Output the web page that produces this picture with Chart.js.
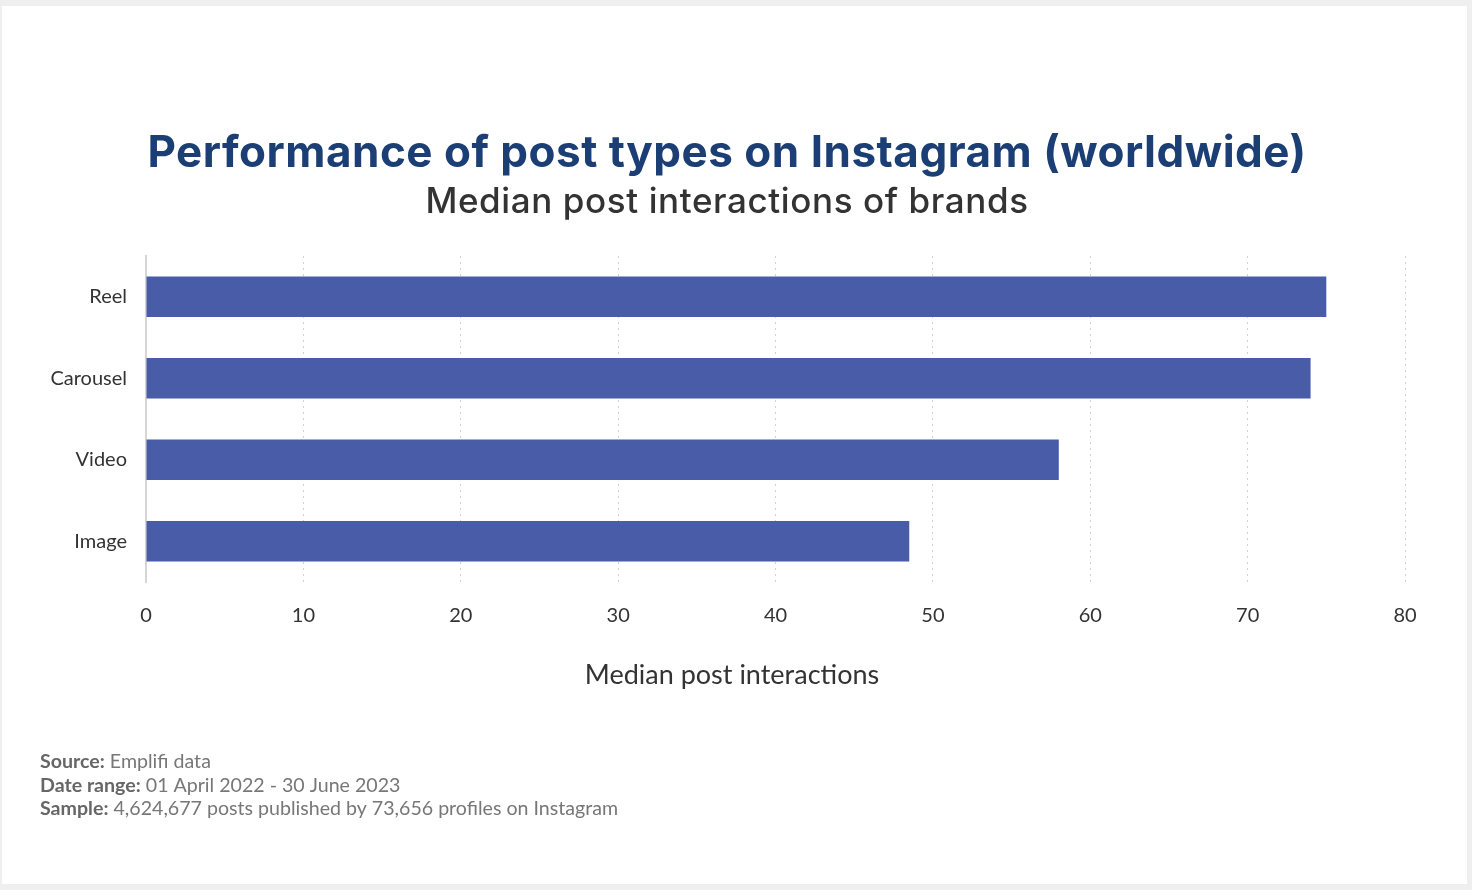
<!DOCTYPE html>
<html>
<head>
<meta charset="utf-8">
<script src="https://cdn.jsdelivr.net/npm/chart.js@4/dist/chart.umd.min.js"></script>
<style>
  html, body { margin: 0; padding: 0; background: #efefef; }
  #wrap { width: 1472px; height: 890px; }
</style>
</head>
<body>
<div id="wrap"><canvas id="postChart" width="1472" height="890"></canvas></div>
<script>
const postTypes = ['Reel', 'Carousel', 'Video', 'Image'];
const medianInteractions = [75, 74, 58, 48.5];
const xTicks = [0, 10, 20, 30, 40, 50, 60, 70, 80];

const chartTitle = 'Performance of post types on Instagram (worldwide)';
const chartSubtitle = 'Median post interactions of brands';
const xAxisTitle = 'Median post interactions';
const footerLines = [
  ['Source:', ' Emplifi data'],
  ['Date range:', ' 01 April 2022 - 30 June 2023'],
  ['Sample:', ' 4,624,677 posts published by 73,656 profiles on Instagram']
];

// white card, headings (centred on the card, not the plot) and footnote
const cardPlugin = {
  id: 'card',
  beforeDraw(chart) {
    const c = chart.ctx;
    c.save();
    c.fillStyle = '#efefef';
    c.fillRect(0, 0, chart.width, chart.height);
    c.fillStyle = '#ffffff';
    c.fillRect(2, 6, 1465, 878);
    c.restore();
  },
  afterDraw(chart) {
    const c = chart.ctx;
    const mid = 727;
    c.save();
    c.textAlign = 'center';
    c.textBaseline = 'alphabetic';

    c.font = '700 44px Inter';
    c.letterSpacing = '0.5px';
    c.fillStyle = '#1b3f75';
    c.fillText(chartTitle, mid, 167);

    c.font = '500 35px Inter';
    c.letterSpacing = '0.6px';
    c.fillStyle = '#333333';
    c.fillText(chartSubtitle, mid, 213);

    c.letterSpacing = '0px';
    c.font = '27px Lato';
    c.fillStyle = '#333333';
    c.fillText(xAxisTitle, 732, 684);

    c.textAlign = 'left';
    let y = 768;
    footerLines.forEach(([label, text]) => {
      c.font = 'bold 19.6px Lato';
      c.fillStyle = '#666666';
      c.fillText(label, 40, y);
      const w = c.measureText(label).width;
      c.font = '19.6px Lato';
      c.fillStyle = '#777777';
      c.fillText(text, 40 + w, y);
      y += 23.5;
    });
    c.restore();
  }
};

const ctx = document.getElementById('postChart').getContext('2d');
const postChart = new Chart(ctx, {
  type: 'bar',
  data: {
    labels: postTypes,
    datasets: [{
      label: 'Median post interactions',
      data: medianInteractions,
      backgroundColor: '#485ca8',
      barPercentage: 0.494,
      categoryPercentage: 1
    }]
  },
  options: {
    indexAxis: 'y',
    responsive: false,
    animation: false,
    layout: { padding: { top: 256, right: 67, bottom: 248, left: 0 } },
    scales: {
      x: {
        min: 0,
        max: 80,
        afterBuildTicks: (scale) => { scale.ticks = xTicks.map(v => ({ value: v })); },
        afterFit: (scale) => { scale.height = 60; },
        ticks: { color: '#333', font: { family: 'Lato', size: 20 }, padding: 22 },
        grid: { color: '#d2d2d2', lineWidth: 1, drawTicks: false },
        border: { display: false, dash: [2, 4] }
      },
      y: {
        afterFit: (scale) => { scale.width = 146; },
        ticks: { color: '#333', font: { family: 'Lato', size: 20 }, padding: 19 },
        grid: { display: false, drawTicks: false },
        border: { display: true, color: '#d6d6d6', width: 2 }
      }
    },
    plugins: {
      legend: { display: false },
      tooltip: { enabled: false }
    }
  },
  plugins: [cardPlugin]
});
</script>
</body>
</html>
